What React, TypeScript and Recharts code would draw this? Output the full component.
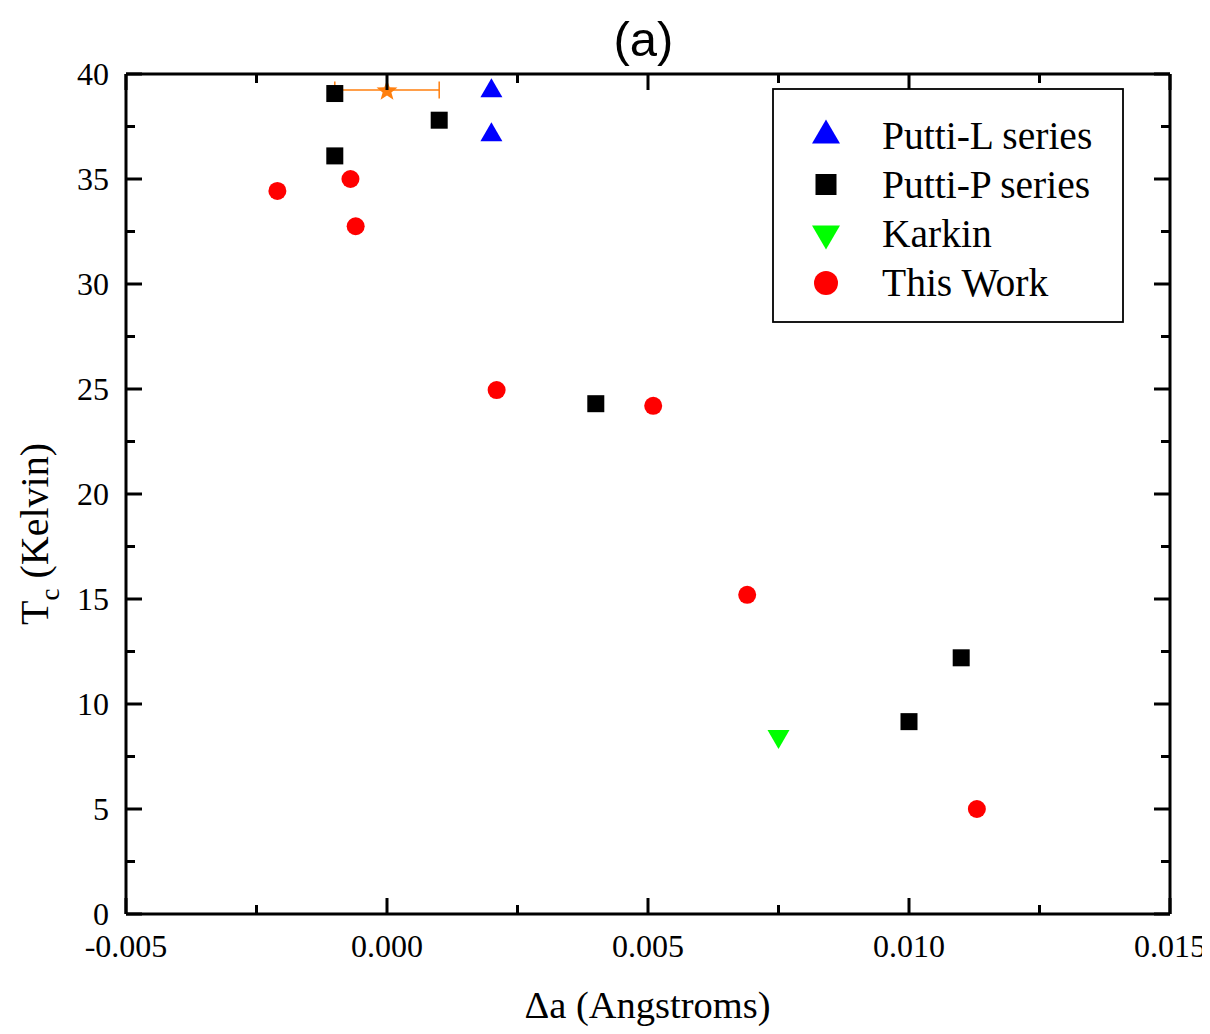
import React from 'react';
import { ScatterChart, Scatter, XAxis, YAxis, ErrorBar } from 'recharts';

// ---- data ----
const puttiL = [
  { x: 0.002, y: 39.35 },
  { x: 0.002, y: 37.25 },
];
const puttiP = [
  { x: -0.001, y: 39.07 },
  { x: -0.001, y: 36.1 },
  { x: 0.001, y: 37.8 },
  { x: 0.004, y: 24.3 },
  { x: 0.01, y: 9.16 },
  { x: 0.011, y: 12.2 },
];
const karkin = [{ x: 0.0075, y: 8.31 }];
const thisWork = [
  { x: -0.0021, y: 34.43 },
  { x: -0.0007, y: 35.0 },
  { x: -0.0006, y: 32.75 },
  { x: 0.0021, y: 24.95 },
  { x: 0.0051, y: 24.2 },
  { x: 0.0069, y: 15.2 },
  { x: 0.0113, y: 5.0 },
];
const starPoint = [{ x: 0.0, y: 39.24, ex: 0.001 }];

const xMajor = [-0.005, 0, 0.005, 0.01, 0.015];
const xMinor = [-0.0025, 0.0025, 0.0075, 0.0125];
const yMajor = [0, 5, 10, 15, 20, 25, 30, 35, 40];
const yMinor = [2.5, 7.5, 12.5, 17.5, 22.5, 27.5, 32.5, 37.5];
const xTicks = [...xMajor, ...xMinor].sort((a, b) => a - b);
const yTicks = [...yMajor, ...yMinor].sort((a, b) => a - b);

const legendItems = ['Putti-L series', 'Putti-P series', 'Karkin', 'This Work'];

// ---- styling ----
const W = 1202;
const H = 1026;
const MAJOR = 16;
const MINOR = 9;
const SERIF = '"Liberation Serif", "Times New Roman", Times, serif';
const SANS = '"Liberation Sans", Arial, Helvetica, sans-serif';

const isMajorX = (v: number) => xMajor.some((m) => Math.abs(m - v) < 1e-12);
const isMajorY = (v: number) => yMajor.some((m) => Math.abs(m - v) < 1e-9);

const BottomTick = (p: any) => {
  const v = p.payload.value;
  const major = isMajorX(v);
  return (
    <g>
      <line x1={p.x} x2={p.x} y1={p.y} y2={p.y - (major ? MAJOR : MINOR)} stroke="#000" strokeWidth={3} />
      {major && (
        <text x={p.x} y={p.y + 43} textAnchor="middle" fontFamily={SERIF} fontSize={32} fill="#000">
          {v.toFixed(3)}
        </text>
      )}
    </g>
  );
};
const TopTick = (p: any) => {
  const major = isMajorX(p.payload.value);
  return <line x1={p.x} x2={p.x} y1={p.y} y2={p.y + (major ? MAJOR : MINOR)} stroke="#000" strokeWidth={3} />;
};
const LeftTick = (p: any) => {
  const v = p.payload.value;
  const major = isMajorY(v);
  return (
    <g>
      <line x1={p.x} x2={p.x + (major ? MAJOR : MINOR)} y1={p.y} y2={p.y} stroke="#000" strokeWidth={3} />
      {major && (
        <text x={p.x - 17} y={p.y + 10.5} textAnchor="end" fontFamily={SERIF} fontSize={32} fill="#000">
          {String(v)}
        </text>
      )}
    </g>
  );
};
const RightTick = (p: any) => {
  const major = isMajorY(p.payload.value);
  return <line x1={p.x} x2={p.x - (major ? MAJOR : MINOR)} y1={p.y} y2={p.y} stroke="#000" strokeWidth={3} />;
};

// ---- marker shapes ----
const UpTri = ({ cx, cy, w = 22, h = 19, fill = '#0000ff' }: any) => (
  <polygon points={`${cx},${cy - h / 2} ${cx - w / 2},${cy + h / 2} ${cx + w / 2},${cy + h / 2}`} fill={fill} />
);
const DownTri = ({ cx, cy, w = 22, h = 19, fill = '#00ff00' }: any) => (
  <polygon points={`${cx},${cy + h / 2} ${cx - w / 2},${cy - h / 2} ${cx + w / 2},${cy - h / 2}`} fill={fill} />
);
const Sq = ({ cx, cy, s = 17 }: any) => <rect x={cx - s / 2} y={cy - s / 2} width={s} height={s} fill="#000" />;
const Dot = ({ cx, cy, r = 9 }: any) => <circle cx={cx} cy={cy} r={r} fill="#ff0000" />;
const Star = ({ cx, cy }: any) => {
  const pts: string[] = [];
  for (let i = 0; i < 10; i++) {
    const rr = i % 2 === 0 ? 11 : 4.6;
    const a = -Math.PI / 2 + (i * Math.PI) / 5;
    pts.push(`${cx + rr * Math.cos(a)},${cy + 1 + rr * Math.sin(a)}`);
  }
  return <polygon points={pts.join(' ')} fill="#ff7f0e" />;
};

const LegendBox = () => {
  const rows = [43.5, 96.5, 149.5, 195];
  const base = [61, 110, 159, 208];
  return (
    <svg width={352} height={235} style={{ position: 'absolute', left: 764, top: 80 }}>
      <rect x={1} y={1} width={350} height={233} fill="#fff" stroke="#000" strokeWidth={1.8} />
      <UpTri cx={54} cy={rows[0]} w={28} h={24} />
      <Sq cx={54} cy={rows[1]} s={21} />
      <DownTri cx={54} cy={rows[2]} w={28} h={24} />
      <Dot cx={54} cy={rows[3]} r={12} />
      {legendItems.map((t, i) => (
        <text key={t} x={110} y={base[i]} fontFamily={SERIF} fontSize={39.5} fill="#000">
          {t}
        </text>
      ))}
    </svg>
  );
};

export default function App() {
  return (
    <div style={{ position: 'relative', width: W, height: H }}>
      <ScatterChart width={W} height={H} margin={{ top: 65, right: 39, bottom: 60, left: 0 }} style={{ overflow: 'visible' }}>
        <XAxis
          xAxisId={0}
          type="number"
          dataKey="x"
          domain={[-0.005, 0.015]}
          allowDataOverflow
          ticks={xTicks}
          interval={0}
          height={60}
          tickSize={0}
          tickMargin={0}
          tickLine={false}
          axisLine={{ stroke: '#000', strokeWidth: 3 }}
          tick={<BottomTick />}
        />
        <XAxis
          xAxisId="top"
          orientation="top"
          type="number"
          dataKey="x"
          domain={[-0.005, 0.015]}
          allowDataOverflow
          ticks={xTicks}
          interval={0}
          height={1}
          tickSize={0}
          tickMargin={0}
          tickLine={false}
          axisLine={{ stroke: '#000', strokeWidth: 3 }}
          tick={<TopTick />}
        />
        <YAxis
          yAxisId={0}
          type="number"
          dataKey="y"
          domain={[0, 40]}
          allowDataOverflow
          ticks={yTicks}
          interval={0}
          width={118}
          tickSize={0}
          tickMargin={0}
          tickLine={false}
          axisLine={{ stroke: '#000', strokeWidth: 3 }}
          tick={<LeftTick />}
        />
        <YAxis
          yAxisId="right"
          orientation="right"
          type="number"
          dataKey="y"
          domain={[0, 40]}
          allowDataOverflow
          ticks={yTicks}
          interval={0}
          width={1}
          tickSize={0}
          tickMargin={0}
          tickLine={false}
          axisLine={{ stroke: '#000', strokeWidth: 3 }}
          tick={<RightTick />}
        />
        <Scatter name="Putti-L series" data={puttiL} xAxisId={0} yAxisId={0} isAnimationActive={false}
          shape={(p: any) => <UpTri cx={p.cx} cy={p.cy} />} />
        <Scatter name="Putti-P series" data={puttiP} xAxisId={0} yAxisId={0} isAnimationActive={false}
          shape={(p: any) => <Sq cx={p.cx} cy={p.cy} />} />
        <Scatter name="Karkin" data={karkin} xAxisId={0} yAxisId={0} isAnimationActive={false}
          shape={(p: any) => <DownTri cx={p.cx} cy={p.cy} />} />
        <Scatter name="This Work" data={thisWork} xAxisId={0} yAxisId={0} isAnimationActive={false}
          shape={(p: any) => <Dot cx={p.cx} cy={p.cy} />} />
        <Scatter name="star" data={starPoint} xAxisId="top" yAxisId="right" isAnimationActive={false}
          shape={(p: any) => <Star cx={p.cx} cy={p.cy} />}>
          <ErrorBar dataKey="ex" direction="x" width={8.5} stroke="#ff7f0e" strokeWidth={1.5} isAnimationActive={false} />
        </Scatter>
      </ScatterChart>
      <svg width={W} height={H} style={{ position: 'absolute', left: 0, top: 0, pointerEvents: 'none' }}>
        <text x={635.5} y={48} textAnchor="middle" fontFamily={SANS} fontSize={49} fill="#000">(a)</text>
        <text x={639.5} y={1010} textAnchor="middle" fontFamily={SERIF} fontSize={38.5} fill="#000">Δa (Angstroms)</text>
        <text x={40} y={526} transform="rotate(-90, 40, 526)" textAnchor="middle" fontFamily={SERIF} fontSize={40} fill="#000">
          T<tspan fontSize={27} dy={11}>c</tspan><tspan dy={-11}> (Kelvin)</tspan>
        </text>
      </svg>
      <LegendBox />
    </div>
  );
}
